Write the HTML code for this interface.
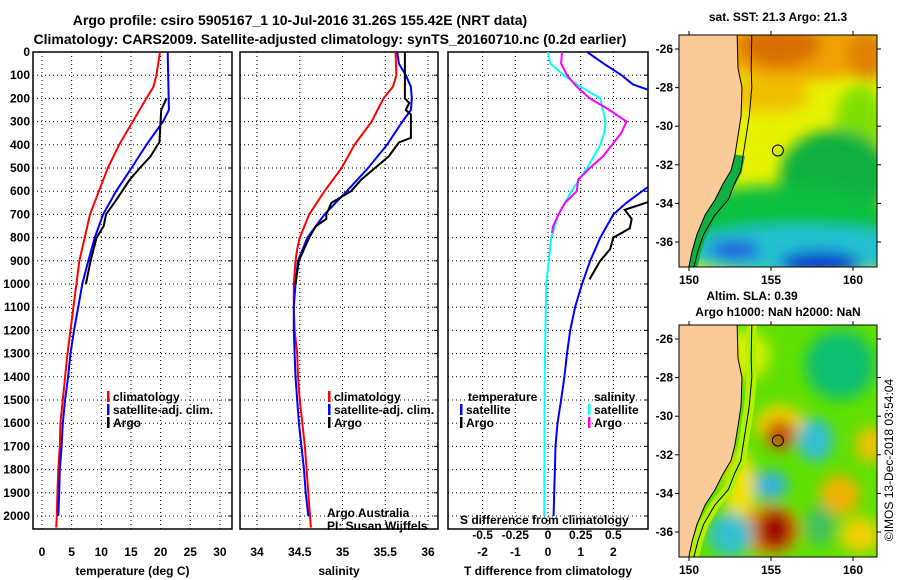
<!DOCTYPE html>
<html><head><meta charset="utf-8">
<style>
html,body{margin:0;padding:0;background:#fff;}
svg{display:block;font-family:"Liberation Sans",sans-serif;}
.b{font-weight:bold;font-size:12px;}
</style></head>
<body>
<svg id="chart" width="900" height="580" viewBox="0 0 900 580">
<defs>
  <clipPath id="c1"><rect x="33" y="52" width="199" height="477"/></clipPath>
  <clipPath id="c2"><rect x="240" y="52" width="198" height="477"/></clipPath>
  <clipPath id="c3"><rect x="448" y="52" width="200" height="477"/></clipPath>
  <clipPath id="m1"><rect x="679" y="35" width="198" height="232"/></clipPath>
  <clipPath id="m2"><rect x="679" y="325" width="198" height="232"/></clipPath>
  <filter id="blur" x="-50%" y="-50%" width="200%" height="200%"><feGaussianBlur stdDeviation="7"/></filter>
</defs>
<text x="300" y="25" text-anchor="middle" font-weight="bold" font-size="14">Argo profile: csiro 5905167_1 10-Jul-2016 31.26S 155.42E (NRT data)</text>
<text x="330" y="44" text-anchor="middle" font-weight="bold" font-size="14">Climatology: CARS2009. Satellite-adjusted climatology: synTS_20160710.nc (0.2d earlier)</text>
<g id="g"></g>
</svg>
<script>
// ---- data ----
const tClimDepth = [0,100,150,200,300,400,500,600,700,800,900,1000,1100,1200,1300,1400,1500,1600,1700,1800,1900,2000,2050];
const tClim = [19.9,19.3,18.8,17.6,15.3,13.0,11.1,9.6,8.1,7.2,6.3,5.8,5.3,4.8,4.3,3.9,3.5,3.1,3.0,2.75,2.6,2.5,2.4];
const tSatDepth = [0,250,300,400,500,600,700,800,900,1000,1100,1200,1300,1400,1500,1600,1700,1800,1900,2000];
const tSat = [21.2,21.4,20.4,17.6,15.1,12.5,10.3,8.9,7.8,6.8,6.1,5.4,4.8,4.4,3.9,3.5,3.3,3.0,2.9,2.75];
const tArgoDepth = [200,250,300,390,400,450,500,550,600,650,700,750,800,900,1000];
const tArgo = [21.0,20.1,20.0,19.8,19.5,18.3,16.5,14.8,13.5,12.2,10.8,10.4,9.2,8.2,7.4];

const sClimDepth = [0,100,150,200,300,400,500,600,700,800,850,900,1000,1100,1200,1300,1400,1500,1600,1700,1800,1900,2000,2050];
const sClim = [35.62,35.63,35.59,35.48,35.34,35.14,34.99,34.79,34.61,34.50,34.47,34.45,34.43,34.43,34.44,34.47,34.48,34.50,34.53,34.56,34.58,34.60,34.62,34.63];
const sSatDepth = [0,50,100,150,200,250,300,400,500,600,700,800,900,1000,1100,1200,1300,1400,1500,1600,1700,1800,1900,2000];
const sSat = [35.64,35.66,35.74,35.80,35.81,35.80,35.70,35.52,35.30,35.05,34.79,34.59,34.48,34.45,34.43,34.43,34.44,34.45,34.47,34.49,34.52,34.55,34.57,34.60];
const sArgoDepth = [0,200,220,250,270,370,390,450,500,550,600,650,700,720,750,800,850,900,950,1000];
const sArgo = [35.73,35.73,35.78,35.74,35.80,35.80,35.66,35.54,35.38,35.22,35.10,34.87,34.81,34.81,34.69,34.61,34.55,34.49,34.47,34.45];

const dTSatDepth = [0,50,100,140,160,200,400,560,580,650,700,800,900,1000,1100,1200,1300,1400,1500,1600,1700,1800,1900,2000];
const dTSat = [1.2,1.7,2.25,2.6,3.0,3.8,4.5,3.4,3.07,2.4,2.0,1.6,1.29,1.04,0.83,0.68,0.58,0.5,0.4,0.29,0.23,0.21,0.19,0.17];
const dTArgoDepth = [200,400,640,680,720,760,800,850,900,950,980];
const dTArgo = [3.4,6.5,3.2,2.35,2.56,2.5,2.0,1.9,1.6,1.39,1.27];
const dSSatDepth = [0,50,100,150,200,250,300,350,400,500,600,700,800,1000,1200,1400,1600,2000];
const dSSat = [0,0.018,0.12,0.25,0.40,0.42,0.44,0.43,0.40,0.30,0.18,0.08,0.025,-0.013,-0.02,-0.025,-0.027,-0.028];
const dSArgoDepth = [0,50,100,150,200,250,300,350,400,450,500,550,600,650,700,750,780];
const dSArgo = [0.107,0.10,0.145,0.22,0.32,0.47,0.60,0.56,0.49,0.42,0.32,0.23,0.22,0.13,0.08,0.04,0.03];

const depthTicks = [0,100,200,300,400,500,600,700,800,900,1000,1100,1200,1300,1400,1500,1600,1700,1800,1900,2000];
const tempTicks = [0,5,10,15,20,25,30];
const salTicks = [34,34.5,35,35.5,36];
const salTickLabels = ["34","34.5","35","35.5","36"];
const dTTicks = [-2,-1,0,1,2];
const dSTicks = [-0.5,-0.25,0,0.25,0.5];
const dSTickLabels = ["-0.5","-0.25","0","0.25","0.5"];
const latTicks = [-26,-28,-30,-32,-34,-36];
const lonTicks = [150,155,160];

// ---- scales ----
const yD = d => 52 + d*0.232;
const xT = t => 42 + t*5.93;
const xS = s => 257 + (s-34)*85.5;
const xDT = t => 548 + t*32.7;
const xDS = s => 548 + s*130.8;
const lonX = lon => 689 + (lon-150)*16.4;
const latY0 = lat => 49 + (-26-lat)*19.3;

const NS = "http://www.w3.org/2000/svg";
const root = document.getElementById('g');
function mk(tag, attrs, parent){
  const e = document.createElementNS(NS, tag);
  for (const k in attrs) e.setAttribute(k, attrs[k]);
  (parent||root).appendChild(e);
  return e;
}
function txt(x,y,s,cls,anchor,parent){
  const e = mk('text',{x:x,y:y,'class':cls||'b','text-anchor':anchor||'middle'},parent);
  e.textContent = s;
  return e;
}

function panel(name,x0,x1,clip,xticks,xfn,labels,xlabel){
  const g = mk('g',{});
  
  
  depthTicks.forEach(d=>{
    const l = mk('line',{x1:x0,x2:x1,y1:yD(d),y2:yD(d),stroke:'#000','stroke-width':1,'stroke-dasharray':'1,3'},g);
    
    
    mk('line',{x1:x1-4,x2:x1,y1:yD(d),y2:yD(d),stroke:'#000'},g);
  });
  xticks.forEach((t,i)=>{
    const X = xfn(t);
    const l = mk('line',{x1:X,x2:X,y1:52,y2:529,stroke:'#000','stroke-width':1,'stroke-dasharray':'1,3'},g);
    
    
    if (labels){
      const t2 = txt(X,556,labels[i],'b','middle',g);
      
      
    }
  });
  const r = mk('rect',{x:x0,y:52,width:x1-x0,height:477,fill:'none',stroke:'#000','stroke-width':1.5},g);
  
  
  const xl = txt((x0+x1)/2,575,xlabel,'b','middle',g);
  
  
  return g;
}
function series(name,depths,vals,xfn,color,clip,w){
  const pts = depths.map((d,i)=>xfn(vals[i]).toFixed(1)+','+yD(d).toFixed(1)).join(' ');
  const p = mk('polyline',{points:pts,fill:'none',stroke:color,'stroke-width':w||2,'clip-path':'url(#'+clip+')'});
  
  
}
function legend(x,y,color,label,name){
  const g = mk('g',{});
  
  
  mk('rect',{x:x,y:y-10,width:2.5,height:11,fill:color},g);
  txt(x+6,y,label,'b','start',g);
}

depthTicks.forEach(d=>{
  const t = txt(30,yD(d)+4,String(d),'b','end');
  
  
});

panel('temperature-panel',33,232,'c1',tempTicks,xT,tempTicks.map(String),'temperature (deg C)');
series('temperature-climatology-line',tClimDepth,tClim,xT,'#ff0000','c1');
series('temperature-satellite-line',tSatDepth,tSat,xT,'#0000ff','c1');
series('temperature-argo-line',tArgoDepth,tArgo,xT,'#000000','c1');
legend(107,401,'#ff0000','climatology','legend-climatology');
legend(107,414,'#0000ff','satellite-adj. clim.','legend-satellite');
legend(107,427,'#000000','Argo','legend-argo');

panel('salinity-panel',240,438,'c2',salTicks,xS,salTickLabels,'salinity');
series('salinity-climatology-line',sClimDepth,sClim,xS,'#ff0000','c2');
series('salinity-satellite-line',sSatDepth,sSat,xS,'#0000ff','c2');
series('salinity-argo-line',sArgoDepth,sArgo,xS,'#000000','c2');
legend(328,401,'#ff0000','climatology','legend-s-climatology');
legend(328,414,'#0000ff','satellite-adj. clim.','legend-s-satellite');
legend(328,427,'#000000','Argo','legend-s-argo');
let cr = txt(327,517,'Argo Australia','','start'); cr.setAttribute('font-size','12');
 
cr = txt(327,530,'PI: Susan Wijffels','','start'); cr.setAttribute('font-size','12');
 

panel('difference-panel',448,648,'c3',dTTicks,xDT,dTTicks.map(String),'T difference from climatology');
series('t-diff-satellite-line',dTSatDepth,dTSat,xDT,'#0000ff','c3');
series('t-diff-argo-line',dTArgoDepth,dTArgo,xDT,'#000000','c3');
series('s-diff-satellite-line',dSSatDepth,dSSat,xDS,'#00ffff','c3');
series('s-diff-argo-line',dSArgoDepth,dSArgo,xDS,'#ff00ff','c3');
let lt = txt(468,401,'temperature','b','start');  
legend(460,414,'#0000ff','satellite','legend-t-satellite');
legend(460,427,'#000000','Argo','legend-t-argo');
lt = txt(594,401,'salinity','b','start');  
legend(588,414,'#00ffff','satellite','legend-s-diff-satellite');
legend(588,427,'#ff00ff','Argo','legend-s-diff-argo');
lt = txt(460,524,'S difference from climatology','b','start');  
dSTicks.forEach((s,i)=>{
  const t = txt(xDS(s),539,dSTickLabels[i],'b','middle');
  
  
});

// ---- maps ----
function map(name,top,kind,title1,title2){
  const g = mk('g',{});
  
  
  const latY = lat => latY0(lat) + (top-35);
  const clip = kind==='sst' ? 'm1':'m2';
  const inner = mk('g',{'clip-path':'url(#'+clip+')'},g);
  const coast = [[152.93,-25.2],[152.99,-27],[153.23,-28],[153.17,-29.5],[152.99,-30.5],[152.8,-31.5],[152.56,-32.3],[152.07,-33],[151.6,-33.8],[150.98,-34.6],[150.49,-35.6],[150.18,-36.5],[149.94,-37.5]];
  const shelfOff = [0.9,0.8,0.6,0.5,0.5,0.5,0.6,0.7,0.8,0.6,0.4,0.35,0.3];
  const cPts = coast.map(c=>lonX(c[0]).toFixed(1)+','+latY(c[1]).toFixed(1)).join(' ');
  const sPts = coast.map((c,i)=>lonX(c[0]+shelfOff[i]).toFixed(1)+','+latY(c[1]).toFixed(1)).join(' ');
  const bandPts = coast.map((c,i)=>lonX(c[0]+shelfOff[i]*0.5).toFixed(1)+','+latY(c[1]).toFixed(1)).slice(5).join(' ');
  if (kind==='sst'){
    mk('rect',{x:679,y:top,width:198,height:232,fill:'#e6f200'},inner);
    const b = mk('g',{filter:'url(#blur)'},inner);
    mk('ellipse',{cx:800,cy:top+15,rx:95,ry:30,fill:'#f0a000'},b);
    mk('ellipse',{cx:780,cy:top+10,rx:40,ry:22,fill:'#d87000'},b);
    mk('ellipse',{cx:868,cy:top+20,rx:20,ry:25,fill:'#e08000'},b);
    mk('ellipse',{cx:770,cy:top+60,rx:40,ry:18,fill:'#f0c000'},b);
    mk('ellipse',{cx:860,cy:top+90,rx:25,ry:40,fill:'#80e000'},b);
    mk('ellipse',{cx:835,cy:top+140,rx:55,ry:45,fill:'#10b040'},b);
    mk('ellipse',{cx:780,cy:top+185,rx:110,ry:35,fill:'#10c040'},b);
    mk('ellipse',{cx:800,cy:top+215,rx:120,ry:25,fill:'#20c0d0'},b);
    mk('ellipse',{cx:820,cy:top+228,rx:40,ry:12,fill:'#1040d0'},b);
    mk('ellipse',{cx:735,cy:top+215,rx:25,ry:10,fill:'#2060e0'},b);
    mk('polyline',{points:bandPts,fill:'none',stroke:'#10b040','stroke-width':12},inner);
  } else {
    mk('rect',{x:679,y:top,width:198,height:232,fill:'#60e000'},inner);
    const b = mk('g',{filter:'url(#blur)'},inner);
    mk('ellipse',{cx:745,cy:top+30,rx:25,ry:25,fill:'#d0f000'},b);
    mk('ellipse',{cx:840,cy:top+40,rx:35,ry:35,fill:'#10c070'},b);
    mk('ellipse',{cx:780,cy:top+100,rx:25,ry:20,fill:'#f0d000'},b);
    mk('ellipse',{cx:780,cy:top+110,rx:15,ry:15,fill:'#c05000'},b);
    mk('ellipse',{cx:815,cy:top+115,rx:18,ry:22,fill:'#30c0d0'},b);
    mk('ellipse',{cx:770,cy:top+160,rx:18,ry:14,fill:'#30b0e0'},b);
    mk('ellipse',{cx:740,cy:top+165,rx:15,ry:40,fill:'#f0e000'},b);
    mk('ellipse',{cx:770,cy:top+205,rx:30,ry:25,fill:'#e09000'},b);
    mk('ellipse',{cx:775,cy:top+205,rx:18,ry:20,fill:'#a00000'},b);
    mk('ellipse',{cx:730,cy:top+210,rx:22,ry:22,fill:'#30c0d0'},b);
    mk('ellipse',{cx:840,cy:top+170,rx:20,ry:20,fill:'#f0b000'},b);
    mk('ellipse',{cx:860,cy:top+210,rx:20,ry:18,fill:'#f0d000'},b);
    mk('ellipse',{cx:870,cy:top+120,rx:14,ry:18,fill:'#f0c000'},b);
    mk('ellipse',{cx:820,cy:top+200,rx:15,ry:20,fill:'#40c060'},b);
    mk('polyline',{points:sPts,fill:'none',stroke:'#b0f000','stroke-width':10},inner);
  }
  const landPts = cPts + ' 670,'+(top+240)+' 670,'+(top-5);
  const land = mk('polygon',{points:landPts,fill:'#facb98'},inner);
  
  
  mk('polyline',{points:sPts,fill:'none',stroke:'#000','stroke-width':1},inner);
  mk('polyline',{points:cPts,fill:'none',stroke:'#000','stroke-width':1},inner);
  const pos = mk('circle',{cx:lonX(155.42),cy:latY(-31.26),r:5.5,fill:'none',stroke:'#000','stroke-width':1},g);
  
  
  mk('rect',{x:679,y:top,width:198,height:232,fill:'none',stroke:'#000','stroke-width':1},g);
  latTicks.forEach(l=>{
    const Y = latY(l);
    mk('line',{x1:679,x2:675,y1:Y,y2:Y,stroke:'#000'},g);
    mk('line',{x1:877,x2:881,y1:Y,y2:Y,stroke:'#000'},g);
    const t = txt(673,Y+4,String(l),'b','end',g);
    
    
  });
  lonTicks.forEach(l=>{
    const X = lonX(l);
    mk('line',{x1:X,x2:X,y1:top,y2:top-4,stroke:'#000'},g);
    mk('line',{x1:X,x2:X,y1:top+232,y2:top+236,stroke:'#000'},g);
    const t = txt(X,top+249,String(l),'b','middle',g);
    
    
  });
  const t1 = txt(title2?752:778,title2?top-25:top-14,title1,'b','middle',g);
  
  
  if (title2){
    const t2 = txt(778,top-9,title2,'b','middle',g);
    
    
  }
}
map('sst-map',35,'sst','sat. SST: 21.3 Argo: 21.3');
map('sla-map',325,'sla','Altim. SLA: 0.39','Argo h1000: NaN h2000: NaN');

const stamp = mk('text',{x:0,y:0,'font-size':'12','text-anchor':'middle',transform:'translate(893,460) rotate(-90)'});
stamp.textContent = '\u00A9IMOS 13-Dec-2018 03:54:04';


</script>
</body></html>
